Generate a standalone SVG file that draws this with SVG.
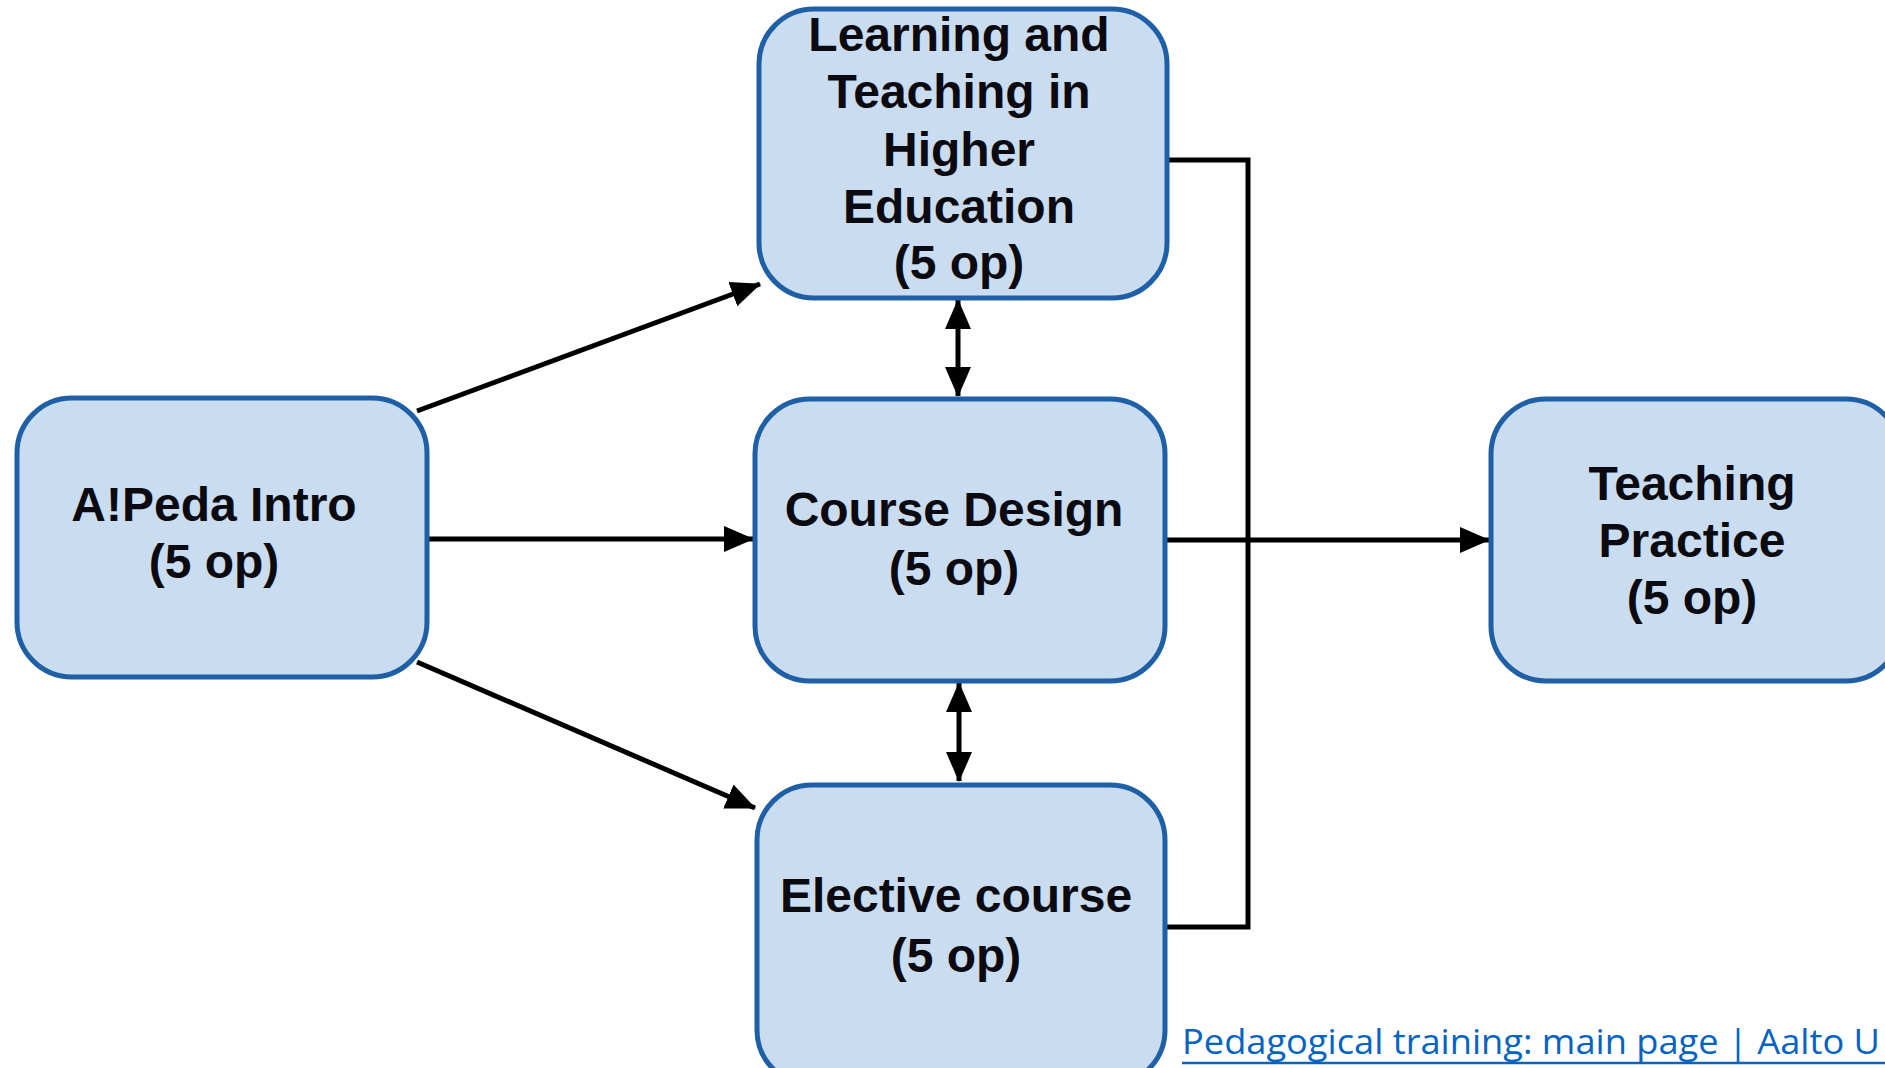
<svg xmlns="http://www.w3.org/2000/svg" width="1885" height="1068" viewBox="0 0 1885 1068">
  <style>
    .box { fill: #C9DCF0; stroke: #1E5FA6; stroke-width: 5; }
    .lbl { font-family: "Liberation Sans", Arial, sans-serif; font-weight: bold; font-size: 48px; fill: #0A0A10; text-anchor: middle; }
    .conn { stroke: #000; stroke-width: 5; fill: none; }
    .link { font-family: "Open Sans", "Noto Sans", sans-serif; font-size: 35px; fill: #0563C1; }
  </style>
  <defs>
    <marker id="arr" markerUnits="userSpaceOnUse" markerWidth="32" markerHeight="28" refX="29" refY="13" orient="auto-start-reverse">
      <path d="M0,0 L30,13 L0,26 z" fill="#000"/>
    </marker>
  </defs>
  <rect width="1885" height="1068" fill="#FFFFFF"/>

  <g id="connectors">
    <line class="conn" x1="417" y1="411" x2="760" y2="284" marker-end="url(#arr)"/>
    <line class="conn" x1="427" y1="539" x2="753" y2="539" marker-end="url(#arr)"/>
    <line class="conn" x1="417" y1="662" x2="755" y2="808" marker-end="url(#arr)"/>
    <line class="conn" x1="958" y1="300" x2="958" y2="396" marker-start="url(#arr)" marker-end="url(#arr)"/>
    <line class="conn" x1="959" y1="683" x2="959" y2="781" marker-start="url(#arr)" marker-end="url(#arr)"/>
    <path class="conn" d="M1167,160 H1248 V927 H1165"/>
    <line class="conn" x1="1165" y1="540" x2="1489" y2="540" marker-end="url(#arr)"/>
  </g>

  <g id="node-intro">
    <rect class="box" x="17" y="398" width="410" height="279" rx="55"/>
    <text class="lbl" x="214" y="521">A!Peda Intro</text>
    <text class="lbl" x="214" y="578">(5 op)</text>
  </g>

  <g id="node-learning">
    <rect class="box" x="759" y="9" width="408" height="289" rx="55"/>
    <text class="lbl" x="959" y="51">Learning and</text>
    <text class="lbl" x="959" y="108">Teaching in</text>
    <text class="lbl" x="959" y="166">Higher</text>
    <text class="lbl" x="959" y="223">Education</text>
    <text class="lbl" x="959" y="279">(5 op)</text>
  </g>

  <g id="node-course-design">
    <rect class="box" x="755" y="399" width="410" height="282" rx="55"/>
    <text class="lbl" x="954" y="526">Course Design</text>
    <text class="lbl" x="954" y="585">(5 op)</text>
  </g>

  <g id="node-elective">
    <rect class="box" x="757" y="785" width="408" height="300" rx="55"/>
    <text class="lbl" x="956" y="912">Elective course</text>
    <text class="lbl" x="956" y="972">(5 op)</text>
  </g>

  <g id="node-teaching-practice">
    <rect class="box" x="1491" y="399" width="410" height="282" rx="55"/>
    <text class="lbl" x="1692" y="500">Teaching</text>
    <text class="lbl" x="1692" y="557">Practice</text>
    <text class="lbl" x="1692" y="614">(5 op)</text>
  </g>

  <g id="link">
    <text class="link" x="1182" y="1054" textLength="698" lengthAdjust="spacingAndGlyphs">Pedagogical training: main page | Aalto U</text>
    <line x1="1182" y1="1063" x2="1885" y2="1063" stroke="#0563C1" stroke-width="2.5"/>
  </g>
</svg>
